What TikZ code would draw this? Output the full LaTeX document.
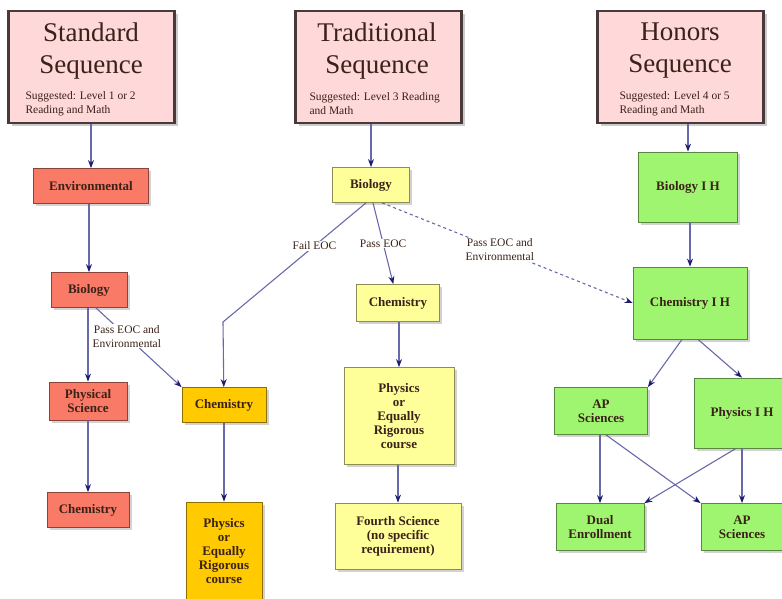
\documentclass[tikz,border=0pt]{standalone}
\usepackage{fontspec}
\setmainfont{Liberation Serif}
\usepackage{tikz}
\usetikzlibrary{arrows.meta,shadows}

\definecolor{hdrfill}{RGB}{255,216,218}
\definecolor{hdrline}{RGB}{72,58,58}
\definecolor{sfill}{RGB}{250,122,104}
\definecolor{ofill}{RGB}{255,202,0}
\definecolor{yfill}{RGB}{255,255,153}
\definecolor{gfill}{RGB}{160,245,112}
\definecolor{txt}{RGB}{58,34,24}
\definecolor{edgecol}{RGB}{104,104,170}
\definecolor{tipcol}{RGB}{28,28,112}

\begin{document}
\begin{tikzpicture}[x=1pt, y=-1pt,
	hdr/.style={draw=hdrline, line width=2.5pt, fill=hdrfill, minimum width=166pt, minimum height=112pt,
		drop shadow={shadow xshift=3pt, shadow yshift=-3pt, fill=black!40}},
	ttl/.style={align=center, text=txt, font=\fontsize{27}{32}\selectfont},
	note/.style={align=left, text=txt, anchor=west, font=\fontsize{11.5}{14}\selectfont},
	box/.style={draw=#1!55!black, fill=#1, line width=.8pt, text=txt, align=center, inner sep=1pt,
		font=\fontsize{13}{14}\selectfont\bfseries,
		drop shadow={shadow xshift=2.5pt, shadow yshift=-2.5pt, fill=black!35}},
	arr/.style={draw=edgecol, line width=1.1pt, -{Stealth[length=8pt, width=6pt, color=tipcol]}},
	lbl/.style={fill=white, text=txt, align=center, inner sep=1pt, font=\fontsize{11.5}{14}\selectfont}]
	\useasboundingbox (0,0) rectangle (782,599);
	% headers
	\node (stdH) at (91.5,67) [hdr] {};
	\node (stdT) at (91,51) [ttl] {Standard\\Sequence};
	\node (stdN) at (22,104) [note] {Suggested: Level 1 or 2\\Reading and Math};
	\node (trdH) at (378.5,67) [hdr] {};
	\node (trdT) at (377,51) [ttl] {Traditional\\Sequence};
	\node (trdN) at (306,104) [note] {Suggested: Level 3 Reading\\and Math};
	\node (honH) at (680.5,67) [hdr] {};
	\node (honT) at (680,51) [ttl] {Honors\\Sequence};
	\node (honN) at (616,104) [note] {Suggested: Level 4 or 5\\Reading and Math};
	% standard column
	\node (envS) at (91,186) [box=sfill, minimum width=115pt, minimum height=35pt] {Environmental};
	\node (bioS) at (89,290) [box=sfill, minimum width=76pt, minimum height=35pt] {Biology};
	\node (phyS) at (88,401) [box=sfill, minimum width=78pt, minimum height=38pt] {Physical\\Science};
	\node (cheS) at (88,510) [box=sfill, minimum width=82pt, minimum height=35pt] {Chemistry};
	% orange column
	\node (cheO) at (224,405) [box=ofill, minimum width=84pt, minimum height=35pt] {Chemistry};
	\node (phyO) at (224,551) [box=ofill, minimum width=76pt, minimum height=98pt] {Physics\\or\\Equally\\Rigorous\\course};
	% traditional column
	\node (bioT) at (371,185) [box=yfill, minimum width=77pt, minimum height=35pt] {Biology};
	\node (cheT) at (398,303) [box=yfill, minimum width=83pt, minimum height=37pt] {Chemistry};
	\node (phyT) at (399,416) [box=yfill, minimum width=110pt, minimum height=97pt] {Physics\\or\\Equally\\Rigorous\\course};
	\node (forT) at (398,536) [box=yfill, minimum width=126pt, minimum height=66pt] {Fourth Science\\(no specific\\requirement)};
	% honors column
	\node (bioH) at (688,187) [box=gfill, minimum width=99pt, minimum height=70pt] {Biology I H};
	\node (cheH) at (690,303) [box=gfill, minimum width=114pt, minimum height=72pt] {Chemistry I H};
	\node (apsL) at (601,411) [box=gfill, minimum width=93pt, minimum height=47pt] {AP\\Sciences};
	\node (phyH) at (742,413) [box=gfill, minimum width=96pt, minimum height=70pt] {Physics I H};
	\node (dual) at (600,527) [box=gfill, minimum width=88pt, minimum height=47pt] {Dual\\Enrollment};
	\node (apsR) at (742,527) [box=gfill, minimum width=82pt, minimum height=47pt] {AP\\Sciences};
	\coordinate (failBend) at (223,322);
	% standard arrows
	\draw[arr] (stdH.south -| envS) -- (envS);
	\draw[arr] (envS.south -| bioS) -- (bioS);
	\draw[arr] (bioS.south -| phyS) -- (phyS);
	\draw[arr] (phyS) -- (cheS);
	\draw[arr] ([xshift=7pt]bioS.south) -- node[lbl, pos=.36] (lblA) {Pass EOC and\\Environmental} (cheO.north west);
	\draw[arr] (cheO) -- (phyO);
	% traditional arrows
	\draw[arr] (trdH.south -| bioT) -- (bioT);
	\draw[arr] ([xshift=-5pt]bioT.south) -- node[lbl, pos=.36] (lblB) {Fail EOC} (failBend) -- (cheO);
	\draw[arr] ([xshift=2pt]bioT.south) -- node[lbl, pos=.5] (lblC) {Pass EOC} (cheT);
	\draw[arr, dashed] ([xshift=11pt]bioT.south) -- node[lbl, pos=.47] (lblD) {Pass EOC and\\Environmental} (cheH.west);
	\draw[arr] (cheT.south -| phyT) -- (phyT);
	\draw[arr] (phyT.south -| forT) -- (forT);
	% honors arrows
	\draw[arr] (honH.south -| bioH) -- (bioH);
	\draw[arr] (bioH.south -| cheH) -- (cheH);
	\draw[arr] ([xshift=-8pt]cheH.south) -- (apsL.north east);
	\draw[arr] ([xshift=8pt]cheH.south) -- (phyH.north);
	\draw[arr] (apsL.south -| dual) -- (dual);
	\draw[arr] ([xshift=5pt]apsL.south) -- (apsR.north west);
	\draw[arr] ([xshift=-6pt]phyH.south) -- (dual.north east);
	\draw[arr] (phyH) -- (apsR);
\end{tikzpicture}
\end{document}
